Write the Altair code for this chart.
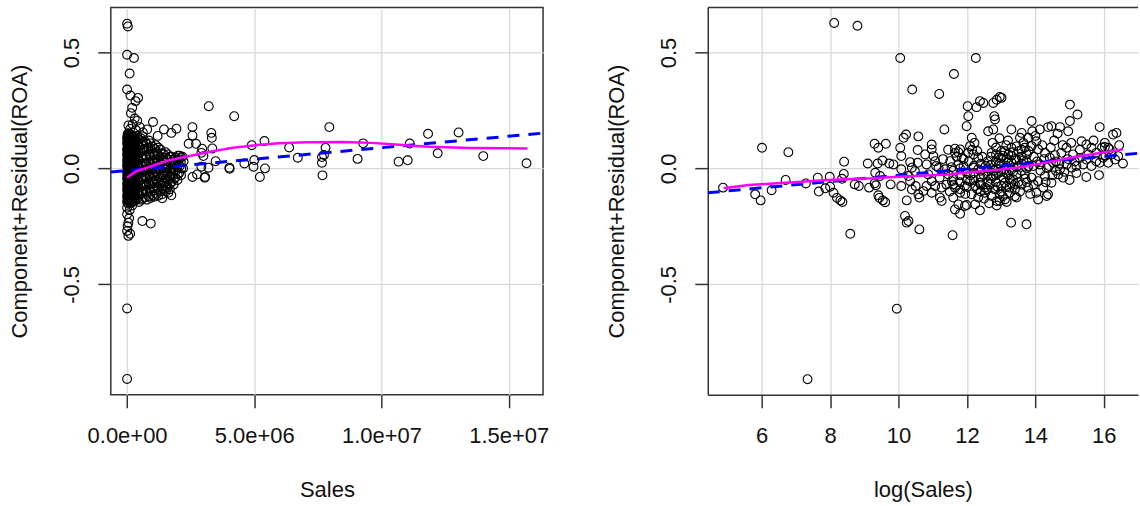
import altair as alt
import pandas as pd

FONT = "Liberation Sans"

# ---------------- Left panel: Component+Residual(ROA) vs Sales ----------------
# (Sales in millions, component+residual)
left_points = [
    # sparse points near Sales = 0
    (0.00, 0.624), (0.03, 0.612), (0.00, 0.490), (0.27, 0.476), (0.10, 0.409), (0.00, 0.340),
    (0.13, 0.314), (0.43, 0.304), (0.33, 0.290), (0.20, 0.261), (0.15, 0.238), (0.30, 0.215),
    (0.40, 0.205), (0.22, 0.190), (0.50, 0.178), (0.79, 0.168), (1.02, 0.200), (1.45, 0.168),
    (1.74, 0.153), (1.94, 0.171), (0.62, 0.155), (0.35, 0.165), (1.20, 0.140), (0.05, 0.185),
    (0.12, 0.170), (0.00, -0.604), (0.00, -0.908), (0.60, -0.227), (0.93, -0.238), (0.00, -0.198),
    (0.05, -0.234), (0.00, -0.270), (0.05, -0.291), (0.12, -0.282), (0.02, -0.250), (0.00, -0.170),
    (0.10, -0.180), (0.20, -0.160), (0.08, -0.215), (1.38, -0.129), (1.74, -0.116), (1.62, -0.105),
    # dense column at small Sales
    (0.00, -0.145), (0.01, -0.131), (0.00, -0.118), (0.02, -0.104), (0.00, -0.092), (0.01, -0.079),
    (0.00, -0.066), (0.02, -0.053), (0.00, -0.041), (0.01, -0.028), (0.00, -0.016), (0.02, -0.004),
    (0.00, 0.009), (0.01, 0.021), (0.00, 0.034), (0.02, 0.046), (0.00, 0.058), (0.01, 0.071),
    (0.00, 0.083), (0.02, 0.096), (0.00, 0.108), (0.01, 0.121), (0.00, 0.133), (0.02, 0.146),
    (0.04, -0.152), (0.03, -0.138), (0.05, -0.125), (0.04, -0.111), (0.03, -0.098), (0.05, -0.086),
    (0.04, -0.073), (0.03, -0.060), (0.05, -0.047), (0.04, -0.035), (0.03, -0.022), (0.05, -0.010),
    (0.04, 0.003), (0.03, 0.015), (0.05, 0.027), (0.04, 0.040), (0.03, 0.052), (0.05, 0.065),
    (0.04, 0.077), (0.03, 0.089), (0.05, 0.102), (0.04, 0.114), (0.03, 0.127), (0.05, 0.139),
    (0.04, 0.150),
    (0.07, -0.139), (0.08, -0.124), (0.06, -0.111), (0.09, -0.097), (0.07, -0.085), (0.06, -0.072),
    (0.08, -0.059), (0.07, -0.047), (0.09, -0.034), (0.06, -0.022), (0.07, -0.009), (0.08, 0.003),
    (0.06, 0.015), (0.07, 0.028), (0.09, 0.040), (0.08, 0.052), (0.06, 0.065), (0.07, 0.077),
    (0.08, 0.090), (0.06, 0.102), (0.09, 0.115), (0.07, 0.127), (0.08, 0.140), (0.06, 0.152),
    (0.11, -0.146), (0.12, -0.132), (0.10, -0.118), (0.11, -0.104), (0.13, -0.091), (0.11, -0.078),
    (0.10, -0.065), (0.12, -0.052), (0.11, -0.040), (0.13, -0.027), (0.10, -0.015), (0.11, -0.002),
    (0.12, 0.010), (0.11, 0.023), (0.10, 0.035), (0.13, 0.048), (0.11, 0.060), (0.12, 0.073),
    (0.10, 0.085), (0.11, 0.098), (0.13, 0.110), (0.11, 0.123), (0.12, 0.135), (0.10, 0.148),
    (0.16, -0.150), (0.15, -0.135), (0.17, -0.121), (0.16, -0.107), (0.14, -0.094), (0.18, -0.082),
    (0.16, -0.069), (0.15, -0.056), (0.17, -0.044), (0.16, -0.031), (0.14, -0.019), (0.18, -0.006),
    (0.16, 0.006), (0.15, 0.018), (0.17, 0.031), (0.16, 0.043), (0.14, 0.056), (0.18, 0.068),
    (0.16, 0.081), (0.15, 0.093), (0.17, 0.106), (0.16, 0.118), (0.14, 0.131), (0.18, 0.143),
    (0.21, -0.144), (0.22, -0.130), (0.20, -0.116), (0.21, -0.103), (0.23, -0.090), (0.21, -0.077),
    (0.20, -0.064), (0.22, -0.051), (0.21, -0.039), (0.23, -0.026), (0.20, -0.014), (0.21, -0.001),
    (0.22, 0.011), (0.21, 0.024), (0.20, 0.036), (0.23, 0.048), (0.21, 0.061), (0.22, 0.073),
    (0.20, 0.086), (0.21, 0.098), (0.23, 0.111), (0.21, 0.123), (0.22, 0.136),
    (0.27, -0.142), (0.26, -0.128), (0.28, -0.113), (0.25, -0.100), (0.27, -0.087), (0.29, -0.075),
    (0.26, -0.062), (0.27, -0.050), (0.28, -0.037), (0.25, -0.025), (0.27, -0.012), (0.29, 0.000),
    (0.26, 0.012), (0.27, 0.025), (0.28, 0.037), (0.25, 0.049), (0.27, 0.062), (0.29, 0.074),
    (0.26, 0.087), (0.27, 0.099), (0.28, 0.112), (0.25, 0.124), (0.27, 0.137),
    (0.33, -0.138), (0.34, -0.122), (0.32, -0.107), (0.33, -0.093), (0.35, -0.080), (0.33, -0.067),
    (0.32, -0.054), (0.34, -0.041), (0.33, -0.028), (0.35, -0.016), (0.32, -0.003), (0.33, 0.009),
    (0.34, 0.021), (0.33, 0.034), (0.32, 0.046), (0.35, 0.059), (0.33, 0.071), (0.34, 0.084),
    (0.32, 0.096), (0.33, 0.109), (0.35, 0.121), (0.33, 0.134),
    # triangle spreading to the right
    (0.40, -0.130), (0.42, -0.100), (0.38, -0.070), (0.41, -0.040), (0.39, -0.010), (0.42, 0.020),
    (0.40, 0.050), (0.38, 0.080), (0.41, 0.110), (0.40, 0.140),
    (0.47, -0.145), (0.48, -0.115), (0.46, -0.085), (0.47, -0.055), (0.49, -0.025), (0.47, 0.005),
    (0.46, 0.035), (0.48, 0.065), (0.47, 0.095), (0.46, 0.125),
    (0.55, -0.135), (0.57, -0.105), (0.53, -0.075), (0.56, -0.045), (0.54, -0.015), (0.55, 0.015),
    (0.57, 0.045), (0.53, 0.075), (0.56, 0.105), (0.54, 0.130),
    (0.62, -0.130), (0.63, -0.100), (0.61, -0.070), (0.62, -0.040), (0.64, -0.010), (0.62, 0.020),
    (0.61, 0.050), (0.63, 0.080), (0.62, 0.110), (0.61, 0.138),
    (0.70, -0.125), (0.72, -0.095), (0.68, -0.065), (0.71, -0.035), (0.69, -0.005), (0.70, 0.025),
    (0.72, 0.055), (0.68, 0.085), (0.71, 0.115),
    (0.78, -0.135), (0.79, -0.105), (0.77, -0.075), (0.78, -0.045), (0.80, -0.015), (0.78, 0.015),
    (0.77, 0.045), (0.79, 0.075), (0.78, 0.105),
    (0.85, -0.120), (0.87, -0.090), (0.83, -0.060), (0.86, -0.030), (0.84, 0.000), (0.85, 0.030),
    (0.87, 0.060), (0.83, 0.090), (0.86, 0.120),
    (0.92, -0.128), (0.93, -0.100), (0.91, -0.070), (0.92, -0.040), (0.94, -0.010), (0.92, 0.020),
    (0.91, 0.050), (0.93, 0.080), (0.92, 0.108),
    (1.00, -0.115), (1.02, -0.085), (0.98, -0.055), (1.01, -0.025), (0.99, 0.005), (1.00, 0.035),
    (1.02, 0.065), (0.98, 0.095),
    (1.07, -0.122), (1.08, -0.095), (1.06, -0.065), (1.07, -0.035), (1.09, -0.005), (1.07, 0.025),
    (1.06, 0.055), (1.08, 0.085),
    (1.15, -0.110), (1.17, -0.080), (1.13, -0.050), (1.16, -0.020), (1.14, 0.010), (1.15, 0.040),
    (1.17, 0.070), (1.13, 0.100),
    (1.22, -0.118), (1.23, -0.090), (1.21, -0.060), (1.22, -0.030), (1.24, 0.000), (1.22, 0.030),
    (1.21, 0.060), (1.23, 0.090),
    (1.30, -0.100), (1.32, -0.070), (1.28, -0.040), (1.31, -0.010), (1.29, 0.020), (1.30, 0.050),
    (1.32, 0.080),
    (1.37, -0.112), (1.38, -0.085), (1.36, -0.055), (1.37, -0.025), (1.39, 0.005), (1.37, 0.035),
    (1.36, 0.065),
    (1.45, -0.090), (1.47, -0.060), (1.43, -0.030), (1.46, 0.000), (1.44, 0.030), (1.45, 0.060),
    (1.52, -0.100), (1.53, -0.075), (1.51, -0.045), (1.52, -0.015), (1.54, 0.015), (1.52, 0.045),
    (1.51, 0.070),
    (1.60, -0.080), (1.62, -0.050), (1.58, -0.020), (1.61, 0.010), (1.59, 0.040), (1.60, 0.060),
    (1.68, -0.090), (1.69, -0.065), (1.67, -0.035), (1.68, -0.005), (1.70, 0.025), (1.68, 0.050),
    (1.75, -0.060), (1.77, -0.030), (1.73, 0.000), (1.76, 0.030), (1.74, 0.050),
    (1.83, -0.070), (1.84, -0.045), (1.82, -0.015), (1.83, 0.015), (1.85, 0.040),
    (1.90, -0.040), (1.92, -0.010), (1.88, 0.020), (1.91, 0.045),
    (1.98, -0.050), (1.99, -0.025), (1.97, 0.005), (1.98, 0.035), (2.00, 0.055),
    (2.05, -0.020), (2.07, 0.010), (2.03, 0.040), (2.06, 0.055),
    (2.12, -0.030), (2.13, 0.000), (2.11, 0.025), (2.12, 0.048),
    (2.20, 0.000), (2.22, 0.030), (2.18, 0.050),
    # larger firms
    (3.21, 0.268), (4.21, 0.225), (2.57, 0.178), (2.57, 0.142), (2.42, 0.106), (2.71, 0.106),
    (3.31, 0.153), (3.33, 0.132), (3.35, 0.086), (2.92, 0.067), (3.48, 0.031), (2.57, -0.037),
    (3.07, -0.037), (2.75, -0.026), (2.92, 0.007), (4.02, 0.003), (4.03, -0.002), (4.61, 0.021),
    (4.90, 0.100), (5.40, 0.118), (4.97, 0.007), (5.00, 0.036), (5.22, -0.037), (5.42, 0.000),
    (6.37, 0.090), (6.71, 0.046), (7.95, 0.178), (7.80, 0.089), (7.66, 0.049), (7.66, 0.024),
    (7.74, 0.058), (7.68, -0.030), (9.06, 0.041), (9.28, 0.108), (10.67, 0.029), (11.03, 0.035),
    (11.11, 0.107), (11.83, 0.149), (12.21, 0.065), (13.03, 0.155), (14.00, 0.053), (15.70, 0.022),
    (3.20, 0.003), (3.00, 0.053), (2.95, 0.085), (3.05, -0.040),
]
left_smooth_sales_m = [0.0, 0.15, 0.37, 0.89, 1.61, 2.46, 3.25, 4.16, 4.95, 5.97, 7.04, 8.5,
                       9.6, 10.57, 11.2, 11.88, 13.45, 15.74]
left_smooth_cr = [-0.040, -0.028, -0.012, 0.007, 0.034, 0.053, 0.072, 0.089, 0.099, 0.108, 0.113,
                  0.114, 0.110, 0.103, 0.098, 0.093, 0.088, 0.086]
left_fit_sales_m = [-0.64, 16.35]
left_fit_cr = [-0.016, 0.152]

# ---------------- Right panel: Component+Residual(ROA) vs log(Sales) ----------------
right_points = [
    (4.87, -0.083), (5.81, -0.112), (5.97, -0.138), (6.01, 0.089), (6.29, -0.094), (6.70, -0.050),
    (6.78, 0.070), (7.29, -0.065), (7.34, -0.909), (7.64, -0.040), (7.67, -0.100), (7.86, -0.086),
    (7.99, -0.036), (8.00, -0.079), (8.10, -0.105), (8.12, 0.627), (8.20, -0.127), (8.30, -0.138),
    (8.36, -0.145), (8.35, -0.045), (8.40, -0.024), (8.41, 0.029), (8.59, -0.282), (8.72, -0.069),
    (8.84, -0.076), (8.80, 0.615),
    (9.10, 0.021), (9.14, -0.083), (9.30, 0.106), (9.41, 0.089), (9.30, -0.065), (9.32, -0.019),
    (9.46, -0.033), (9.34, -0.073), (9.41, -0.116), (9.44, -0.127), (9.54, -0.138), (9.61, -0.146),
    (9.39, 0.021), (9.53, 0.034), (9.63, 0.106), (9.73, 0.021), (9.85, 0.017), (9.77, -0.069),
    (9.95, -0.605), (10.05, 0.476), (10.05, 0.089), (10.08, 0.053), (10.08, -0.004), (10.08, -0.076),
    (10.15, 0.132), (10.22, 0.146), (10.24, -0.138), (10.29, -0.227), (10.24, -0.234), (10.40, 0.340),
    (10.58, 0.138), (10.61, -0.263), (10.34, 0.027), (10.39, 0.003), (10.48, -0.012), (10.56, 0.024),
    (10.29, -0.033), (10.34, -0.055), (10.50, -0.076), (10.39, -0.091), (10.58, -0.112),
    (10.61, -0.126), (10.56, 0.079), (10.19, -0.205),
    (10.78, 0.060), (10.97, 0.082), (11.02, 0.053), (10.82, 0.017), (11.07, 0.031), (11.17, 0.003),
    (10.87, -0.026), (10.97, -0.055), (10.82, -0.076), (11.07, -0.076), (10.73, -0.098),
    (10.97, -0.105), (11.26, -0.083), (11.21, -0.126), (11.26, -0.141), (11.34, 0.168), (11.19, 0.321),
    (10.97, 0.103), (11.36, -0.004), (11.46, -0.026), (11.51, 0.031), (11.56, -0.055), (11.65, 0.067),
    (11.80, 0.082), (11.85, 0.046), (11.75, 0.017), (11.65, -0.083), (11.80, -0.105), (11.94, -0.076),
    (11.60, -0.126), (11.75, -0.155), (11.65, -0.177), (11.80, -0.196), (11.99, -0.158), (11.62, 0.407),
    (11.58, -0.288), (11.65, 0.085), (11.75, 0.070), (11.70, 0.050), (11.90, 0.040), (11.60, -0.010),
    (11.60, -0.040), (11.60, -0.070), (11.80, 0.000), (11.80, -0.030), (11.80, -0.060), (11.80, -0.090),
    (12.00, -0.020), (12.00, -0.050), (12.00, -0.080),
    (11.99, 0.182), (12.14, 0.132), (12.09, 0.096), (12.22, 0.110), (12.02, 0.268), (12.04, 0.225),
    (12.28, 0.264), (12.38, 0.290), (12.26, 0.476), (12.48, 0.282), (12.77, 0.282), (12.87, 0.296),
    (12.96, 0.308), (13.01, 0.304), (12.80, 0.225), (12.82, 0.211), (12.77, 0.168), (12.62, 0.160),
    (12.72, 0.067), (12.92, 0.046), (12.04, 0.067), (12.19, 0.060), (12.33, 0.046), (12.19, 0.003),
    (12.33, -0.004), (12.48, -0.026), (12.62, -0.012), (12.77, -0.033), (12.92, -0.019), (12.09, -0.055),
    (12.24, -0.076), (12.38, -0.062), (12.53, -0.083), (12.67, -0.069), (12.82, -0.091), (12.14, -0.112),
    (12.33, -0.126), (12.53, -0.105), (12.72, -0.119), (12.87, -0.141), (11.94, -0.162), (12.24, -0.155),
    (12.38, -0.181), (12.87, -0.160), (12.96, -0.141), (12.20, 0.010), (12.20, -0.020), (12.20, -0.050),
    (12.40, 0.020), (12.40, -0.010), (12.40, -0.040), (12.40, -0.070), (12.40, -0.100), (12.60, 0.030),
    (12.60, 0.000), (12.60, -0.030), (12.60, -0.060), (12.60, -0.090), (12.70, 0.050), (12.70, 0.015),
    (12.70, -0.045), (12.85, 0.090), (12.85, 0.060), (12.85, 0.030), (12.85, 0.000), (12.85, -0.030),
    (12.85, -0.060),
    (13.11, 0.074), (13.30, 0.089), (13.21, 0.060), (13.50, 0.074), (13.06, -0.040), (13.21, -0.026),
    (13.35, -0.048), (13.11, -0.062), (13.25, -0.083), (13.40, -0.067), (13.40, -0.091), (12.96, -0.112),
    (13.11, -0.134), (13.25, -0.105), (13.45, -0.126), (13.16, -0.145), (13.29, -0.234), (13.74, -0.241),
    (13.89, 0.204), (13.91, 0.160), (13.60, 0.153), (13.30, 0.168), (13.55, 0.132), (13.79, 0.132),
    (13.69, 0.089), (13.89, 0.096), (13.74, 0.031), (13.94, 0.010), (13.69, -0.026), (13.89, -0.040),
    (13.79, -0.083), (13.00, 0.075), (13.00, 0.045), (13.00, 0.015), (13.00, -0.015), (13.00, -0.075),
    (13.00, -0.100), (13.15, 0.100), (13.15, 0.040), (13.15, 0.010), (13.15, -0.020), (13.15, -0.080),
    (13.30, 0.055), (13.30, 0.025), (13.30, -0.005), (13.30, -0.065), (13.45, 0.095), (13.45, 0.035),
    (13.45, 0.005), (13.45, -0.025), (13.60, 0.080), (13.60, 0.050), (13.60, 0.020), (13.60, -0.010),
    (13.60, -0.070), (13.75, 0.060), (13.75, 0.000), (13.75, -0.060),
    (14.13, 0.168), (14.37, 0.178), (14.47, 0.182), (14.72, 0.178), (14.96, 0.160), (15.01, 0.204),
    (15.01, 0.275), (15.23, 0.232), (14.03, 0.117), (14.08, 0.082), (14.28, 0.067), (14.42, 0.046),
    (14.57, 0.057), (14.76, 0.067), (14.91, 0.089), (14.13, 0.017), (14.33, 0.003), (14.52, 0.024),
    (14.72, -0.004), (14.91, 0.017), (15.06, 0.003), (15.20, 0.010), (14.08, -0.055), (14.28, -0.033),
    (14.47, -0.062), (14.67, -0.026), (14.81, -0.040), (14.03, -0.105), (14.23, -0.083), (14.37, -0.112),
    (14.08, -0.134), (14.33, -0.119),
    (15.35, 0.117), (15.49, 0.103), (15.64, 0.089), (15.78, 0.067), (15.88, 0.178), (16.03, 0.110),
    (16.13, 0.089), (15.49, 0.038), (15.64, 0.010), (15.78, 0.031), (15.88, 0.024), (15.98, 0.046),
    (16.13, 0.024), (16.23, 0.060), (16.33, 0.038), (16.42, 0.053), (16.56, 0.021), (15.49, -0.037),
    (15.86, -0.029), (15.40, 0.017), (16.27, 0.146), (16.37, 0.153), (16.03, 0.092), (16.17, 0.082),
    (14.55, 0.120), (14.80, 0.100), (15.10, 0.060), (15.30, 0.045), (14.60, -0.010), (15.00, -0.050),
    (15.20, -0.020),
    # extra points in the dense middle
    (11.10, 0.010), (11.20, -0.040), (11.30, 0.040), (11.40, -0.070), (11.45, 0.080), (11.50, -0.100),
    (11.55, 0.005), (11.90, 0.010), (11.95, -0.110), (12.05, 0.030), (12.10, -0.030), (12.15, 0.080),
    (12.30, -0.090), (12.30, 0.075), (12.45, 0.050), (12.50, -0.130), (12.55, 0.010), (12.65, -0.150),
    (12.75, 0.110), (12.80, -0.010), (12.90, -0.080), (12.95, 0.020), (12.95, 0.130), (13.05, 0.055),
    (13.05, -0.120), (13.10, -0.005), (13.20, 0.120), (13.20, 0.030), (13.25, -0.045), (13.35, 0.070),
    (13.35, -0.015), (13.40, 0.040), (13.40, -0.120), (13.50, 0.010), (13.50, -0.060), (13.55, -0.100),
    (13.65, 0.110), (13.65, 0.035), (13.70, -0.045), (13.80, 0.075), (13.80, 0.010), (13.85, -0.110),
    (13.95, 0.050), (13.95, -0.070), (14.00, 0.140), (14.05, 0.030), (14.15, -0.010), (14.20, 0.100),
    (14.25, 0.040), (14.30, -0.060), (14.40, 0.010), (14.45, 0.090), (14.50, -0.030), (14.60, 0.030),
    (14.65, 0.150), (14.70, 0.020), (14.85, -0.015), (14.95, 0.040), (15.05, 0.110), (15.15, 0.030),
    (15.30, 0.080), (15.55, 0.060), (15.70, 0.120), (15.95, 0.090), (16.05, 0.055), (16.45, 0.100),
]
right_smooth_log_sales = [4.89, 5.62, 6.69, 7.96, 9.22, 10.0, 10.49, 11.46, 12.24, 13.0, 13.6,
                          14.37, 15.15, 16.03, 16.56]
right_smooth_cr = [-0.086, -0.072, -0.062, -0.050, -0.043, -0.036, -0.033, -0.026, -0.015, -0.005,
                   0.006, 0.027, 0.049, 0.070, 0.082]
right_fit_log_sales = [4.424, 17.0]
right_fit_cr = [-0.105, 0.065]

# ---------------- Axes ----------------
y_ticks = [-0.5, 0.0, 0.5]
y_tick_labels = ["-0.5", "0.0", "0.5"]
left_x_ticks = [0.0, 5e6, 1e7, 1.5e7]
left_x_tick_labels = ["0.0e+00", "5.0e+06", "1.0e+07", "1.5e+07"]
right_x_ticks = [6, 8, 10, 12, 14, 16]
right_x_tick_labels = ["6", "8", "10", "12", "14", "16"]
y_title = "Component+Residual(ROA)"

Y_DOMAIN = [-0.976, 0.694]


def label_expr(values, labels):
    expr = "''"
    for v, l in zip(reversed(values), reversed(labels)):
        expr = f"datum.value == {v} ? '{l}' : ({expr})"
    return expr


common_axis = dict(
    tickSize=13, tickWidth=1.5, tickColor="#333333",
    grid=True, gridColor="#d9d9d9", gridWidth=1.3,
    labelFont=FONT, labelFontSize=22, labelColor="#111111",
    titleFont=FONT, titleFontSize=22, titleFontWeight="normal", titleColor="#111111",
    labelFlush=False, labelOverlap=False,
)


def y_axis(domain):
    return alt.Axis(
        values=y_ticks, labelExpr=label_expr(y_ticks, y_tick_labels),
        labelAngle=270, labelAlign="center", labelBaseline="alphabetic", labelPadding=19,
        title=y_title, titleAngle=270, titleAlign="center", titleBaseline="alphabetic",
        titleX=-84, titleY=194,
        domain=domain, domainColor="#333333", domainWidth=1.5,
        **common_axis,
    )


def x_axis(values, labels, title, domain):
    return alt.Axis(
        values=values, labelExpr=label_expr(values, labels),
        labelAngle=0, labelAlign="center", labelBaseline="alphabetic", labelPadding=35,
        title=title, titleBaseline="alphabetic", titleY=102,
        domain=domain, domainColor="#333333", domainWidth=1.5,
        **common_axis,
    )


# ---------------- Data frames ----------------
df_l = pd.DataFrame({"sales": [p[0] * 1e6 for p in left_points], "cr": [p[1] for p in left_points]})
df_l_smooth = pd.DataFrame({"sales": [s * 1e6 for s in left_smooth_sales_m], "cr": left_smooth_cr})
df_l_fit = pd.DataFrame({"sales": [s * 1e6 for s in left_fit_sales_m], "cr": left_fit_cr})

df_r = pd.DataFrame({"lsales": [p[0] for p in right_points], "cr": [p[1] for p in right_points]})
df_r_smooth = pd.DataFrame({"lsales": right_smooth_log_sales, "cr": right_smooth_cr})
df_r_fit = pd.DataFrame({"lsales": right_fit_log_sales, "cr": right_fit_cr})
df_r_top = pd.DataFrame({"cr": [Y_DOMAIN[1]]})

POINT_SIZE = 78

# ---------------- Left chart ----------------
lx_scale = alt.Scale(domain=[-0.64e6, 16.35e6], nice=False, zero=False)
y_scale = alt.Scale(domain=Y_DOMAIN, nice=False, zero=False)

pts_l = alt.Chart(df_l).mark_point(shape="circle", filled=False, color="black", size=POINT_SIZE,
                                   strokeWidth=1.1, opacity=1).encode(
    x=alt.X("sales:Q", scale=lx_scale, axis=x_axis(left_x_ticks, left_x_tick_labels, "Sales", False)),
    y=alt.Y("cr:Q", scale=y_scale, axis=y_axis(False)),
)
fit_l = alt.Chart(df_l_fit).mark_line(color="#0000FF", strokeDash=[12, 9], strokeWidth=3, clip=True).encode(
    x=alt.X("sales:Q", title="Sales"), y=alt.Y("cr:Q", title=y_title))
smooth_l = alt.Chart(df_l_smooth).mark_line(color="#FF00FF", strokeWidth=2.5).encode(
    x=alt.X("sales:Q", title="Sales"), y=alt.Y("cr:Q", title=y_title))

left = alt.layer(pts_l, fit_l, smooth_l).properties(
    width=433, height=388, view=alt.ViewBackground(stroke="#333333", strokeWidth=1.5))

# ---------------- Right chart ----------------
rx_scale = alt.Scale(domain=[4.424, 17.0], nice=False, zero=False)

pts_r = alt.Chart(df_r).mark_point(shape="circle", filled=False, color="black", size=POINT_SIZE,
                                   strokeWidth=1.1, opacity=1).encode(
    x=alt.X("lsales:Q", scale=rx_scale,
            axis=x_axis(right_x_ticks, right_x_tick_labels, "log(Sales)", True)),
    y=alt.Y("cr:Q", scale=y_scale, axis=y_axis(True)),
)
fit_r = alt.Chart(df_r_fit).mark_line(color="#0000FF", strokeDash=[12, 9], strokeWidth=3, clip=True).encode(
    x=alt.X("lsales:Q", title="log(Sales)"), y=alt.Y("cr:Q", title=y_title))
smooth_r = alt.Chart(df_r_smooth).mark_line(color="#FF00FF", strokeWidth=2.5).encode(
    x=alt.X("lsales:Q", title="log(Sales)"), y=alt.Y("cr:Q", title=y_title))
top_r = alt.Chart(df_r_top).mark_rule(color="#333333", strokeWidth=1.5).encode(
    y=alt.Y("cr:Q", title=y_title))

right = alt.layer(pts_r, fit_r, smooth_r, top_r).properties(
    width=431, height=388, view=alt.ViewBackground(stroke="transparent"))

chart = alt.hconcat(left, right, spacing=165, bounds="flush").properties(
    padding={"left": 8, "top": 5, "right": 0, "bottom": 0},
    background="white",
).configure(font=FONT).configure_view(stroke="#333333", strokeWidth=1.5)

chart.save("out.html", embed_options={"renderer": "svg", "actions": False})
